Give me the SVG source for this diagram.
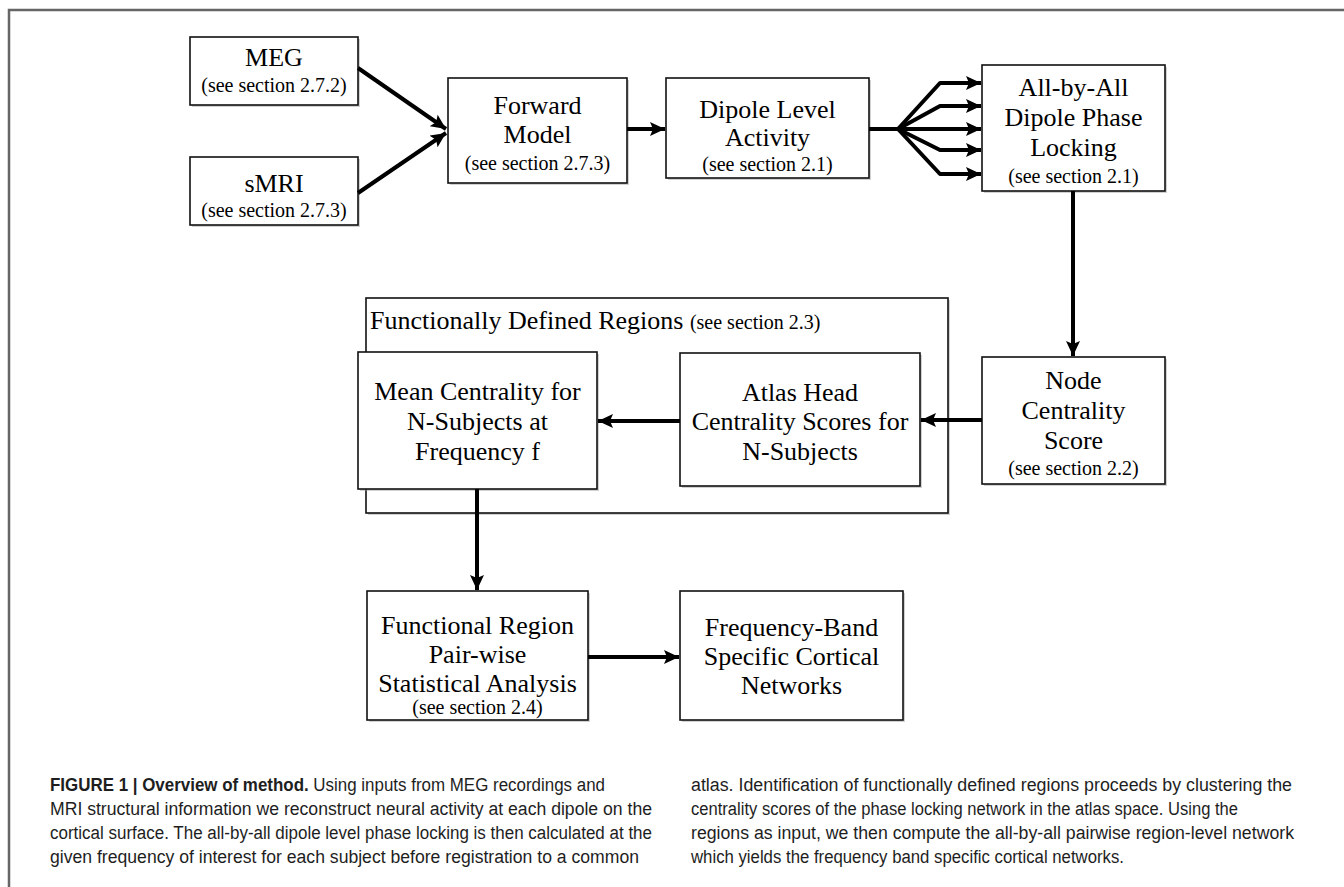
<svg xmlns="http://www.w3.org/2000/svg" width="1344" height="887" viewBox="0 0 1344 887">
<defs>
<marker id="ah" markerUnits="userSpaceOnUse" markerWidth="16" markerHeight="14" refX="15" refY="7" orient="auto">
<path d="M0,0 L15,7 L0,14 L3,7 Z" fill="#000"/>
</marker>
</defs>
<style>
.box{fill:#fff;stroke:#111;stroke-width:1.6}
.shadow{fill:#9a9a9a;opacity:0.45}
.t{font-family:"Liberation Serif","Times New Roman",serif;font-size:26px;fill:#000;text-anchor:middle}
.s{font-family:"Liberation Serif","Times New Roman",serif;font-size:20px;fill:#000;text-anchor:middle}
.conn{fill:none;stroke:#000;stroke-width:4;stroke-linejoin:round}
.cap{font-family:"Liberation Sans",Arial,sans-serif;font-size:18px;fill:#1e1e1e}
</style>
<rect width="1344" height="887" fill="#fff"/>
<path d="M9,887 V10 H1344" fill="none" stroke="#666" stroke-width="2.5"/>

<g id="container">
<rect class="shadow" x="368" y="300" width="582" height="215"/>
<rect class="box" x="366" y="298" width="582" height="215"/>
<text x="370" y="329" font-family="Liberation Serif, serif" font-size="26" fill="#000">Functionally Defined Regions <tspan font-size="20">(see section 2.3)</tspan></text>
</g>

<g id="meg">
<rect class="shadow" x="192" y="39" width="168" height="68"/>
<rect class="box" x="190" y="37" width="168" height="68"/>
<text class="t" x="274" y="66">MEG</text>
<text class="s" x="274" y="92">(see section 2.7.2)</text>
</g>

<g id="smri">
<rect class="shadow" x="192" y="159" width="168" height="68"/>
<rect class="box" x="190" y="157" width="168" height="68"/>
<text class="t" x="274" y="192">sMRI</text>
<text class="s" x="274" y="217">(see section 2.7.3)</text>
</g>

<g id="forward">
<rect class="shadow" x="450" y="80" width="179" height="105"/>
<rect class="box" x="448" y="78" width="179" height="105"/>
<text class="t" x="537.5" y="114">Forward</text>
<text class="t" x="537.5" y="143">Model</text>
<text class="s" x="537.5" y="170">(see section 2.7.3)</text>
</g>

<g id="dipole">
<rect class="shadow" x="668" y="80" width="203" height="100"/>
<rect class="box" x="666" y="78" width="203" height="100"/>
<text class="t" x="767.5" y="118">Dipole Level</text>
<text class="t" x="767.5" y="146">Activity</text>
<text class="s" x="767.5" y="171">(see section 2.1)</text>
</g>

<g id="allbyall">
<rect class="shadow" x="984" y="67" width="183" height="126"/>
<rect class="box" x="982" y="65" width="183" height="126"/>
<text class="t" x="1073.5" y="96">All-by-All</text>
<text class="t" x="1073.5" y="126">Dipole Phase</text>
<text class="t" x="1073.5" y="156">Locking</text>
<text class="s" x="1073.5" y="183">(see section 2.1)</text>
</g>

<g id="nodecentrality">
<rect class="shadow" x="984" y="359" width="183" height="127"/>
<rect class="box" x="982" y="357" width="183" height="127"/>
<text class="t" x="1073.5" y="389">Node</text>
<text class="t" x="1073.5" y="419">Centrality</text>
<text class="t" x="1073.5" y="449">Score</text>
<text class="s" x="1073.5" y="475">(see section 2.2)</text>
</g>

<g id="meancentrality">
<rect class="shadow" x="360" y="354" width="239" height="137"/>
<rect class="box" x="358" y="352" width="239" height="137"/>
<text class="t" x="477.5" y="400">Mean Centrality for</text>
<text class="t" x="477.5" y="430">N-Subjects at</text>
<text class="t" x="477.5" y="460">Frequency f</text>
</g>

<g id="atlashead">
<rect class="shadow" x="682" y="355" width="240" height="133"/>
<rect class="box" x="680" y="353" width="240" height="133"/>
<text class="t" x="800" y="401">Atlas Head</text>
<text class="t" x="800" y="430">Centrality Scores for</text>
<text class="t" x="800" y="460">N-Subjects</text>
</g>

<g id="functionalregion">
<rect class="shadow" x="369" y="593" width="221" height="129"/>
<rect class="box" x="367" y="591" width="221" height="129"/>
<text class="t" x="477.5" y="634">Functional Region</text>
<text class="t" x="477.5" y="663">Pair-wise</text>
<text class="t" x="477.5" y="692">Statistical Analysis</text>
<text class="s" x="477.5" y="714">(see section 2.4)</text>
</g>

<g id="frequencyband">
<rect class="shadow" x="682" y="593" width="223" height="129"/>
<rect class="box" x="680" y="591" width="223" height="129"/>
<text class="t" x="791.5" y="636">Frequency-Band</text>
<text class="t" x="791.5" y="665">Specific Cortical</text>
<text class="t" x="791.5" y="694">Networks</text>
</g>

<g id="connectors">
<path class="conn" d="M358,68 L446,129" marker-end="url(#ah)"/>
<path class="conn" d="M358,193 L446,133" marker-end="url(#ah)"/>
<path class="conn" d="M627,129 H665" marker-end="url(#ah)"/>
<path class="conn" d="M869,129 H898"/>
<path class="conn" d="M898,129 L940,83 H981" marker-end="url(#ah)"/>
<path class="conn" d="M898,129 L940,106 H981" marker-end="url(#ah)"/>
<path class="conn" d="M898,129 H981" marker-end="url(#ah)"/>
<path class="conn" d="M898,129 L940,150 H981" marker-end="url(#ah)"/>
<path class="conn" d="M898,129 L940,174 H981" marker-end="url(#ah)"/>
<path class="conn" d="M1073,191 V356" marker-end="url(#ah)"/>
<path class="conn" d="M982,420 H921" marker-end="url(#ah)"/>
<path class="conn" d="M680,421 H598" marker-end="url(#ah)"/>
<path class="conn" d="M477,489 V590" marker-end="url(#ah)"/>
<path class="conn" d="M588,657 H679" marker-end="url(#ah)"/>
</g>

<g id="caption">
<text class="cap" x="50" y="791" textLength="555" lengthAdjust="spacingAndGlyphs"><tspan font-weight="bold">FIGURE 1 | Overview of method.</tspan> Using inputs from MEG recordings and</text>
<text class="cap" x="50" y="815" textLength="602" lengthAdjust="spacingAndGlyphs">MRI structural information we reconstruct neural activity at each dipole on the</text>
<text class="cap" x="50" y="839" textLength="602" lengthAdjust="spacingAndGlyphs">cortical surface. The all-by-all dipole level phase locking is then calculated at the</text>
<text class="cap" x="50" y="863" textLength="589" lengthAdjust="spacingAndGlyphs">given frequency of interest for each subject before registration to a common</text>
<text class="cap" x="691" y="791" textLength="601" lengthAdjust="spacingAndGlyphs">atlas. Identification of functionally defined regions proceeds by clustering the</text>
<text class="cap" x="691" y="815" textLength="547" lengthAdjust="spacingAndGlyphs">centrality scores of the phase locking network in the atlas space. Using the</text>
<text class="cap" x="691" y="839" textLength="603" lengthAdjust="spacingAndGlyphs">regions as input, we then compute the all-by-all pairwise region-level network</text>
<text class="cap" x="691" y="863" textLength="433" lengthAdjust="spacingAndGlyphs">which yields the frequency band specific cortical networks.</text>
</g>
</svg>
